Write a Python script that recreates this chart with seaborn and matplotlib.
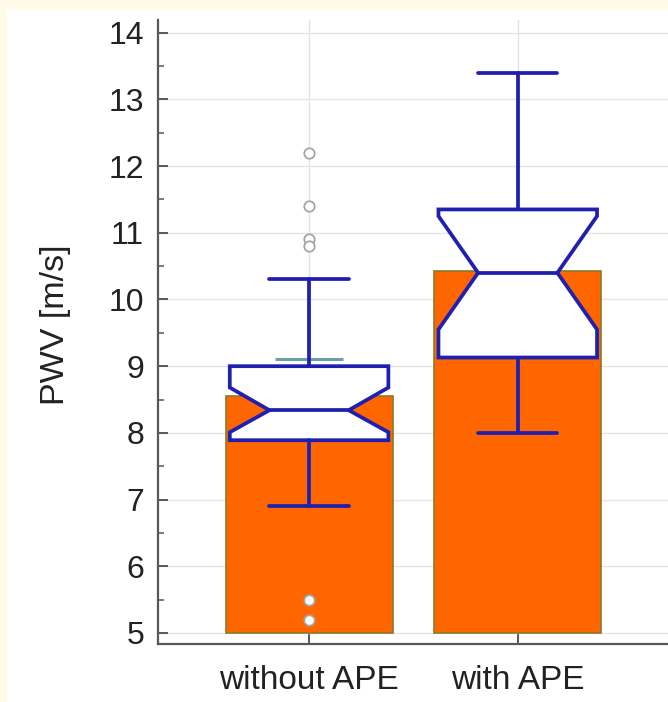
import matplotlib
matplotlib.use("Agg")
import matplotlib.pyplot as plt
from matplotlib.patches import Rectangle
from matplotlib.ticker import MultipleLocator
import numpy as np
import pandas as pd
import seaborn as sns

# ---- data ----
groups = ["without APE", "with APE"]
bar_values = [8.55, 10.42]
bar_base = 5.0
bar_err = [0.56, 0.60]

q1 = [7.89, 9.13]
median = [8.34, 10.40]
q3 = [9.00, 11.35]
ci_low = [8.01, 9.55]
ci_high = [8.68, 11.25]
whisker_low = [6.90, 8.00]
whisker_high = [10.30, 13.40]
outliers = [[12.2, 11.4, 10.9, 10.8, 5.5, 5.2], []]

y_ticks = [5, 6, 7, 8, 9, 10, 11, 12, 13, 14]

# ---- style ----
sns.set_style("white")
plt.rcParams['font.family'] = ['Liberation Sans', 'DejaVu Sans']

BLUE = "#2020b0"
ORANGE = "#ff6600"
TEXT = "#222222"
AXIS = "#585858"

fig = plt.figure(figsize=(6.68, 7.02), dpi=100, facecolor="#fffbe6")
fig.patches.append(Rectangle((7 / 668, 0), 1, 1 - 10 / 702, transform=fig.transFigure,
                             facecolor="white", edgecolor="none", zorder=-10))
ax = fig.add_axes([158 / 668, (702 - 644) / 702, (668 - 158) / 668, (644 - 20) / 702])
ax.set_facecolor("white")

df = pd.DataFrame({"group": groups,
                   "height": [v - bar_base for v in bar_values]})
sns.barplot(data=df, x="group", y="height", bottom=bar_base, color=ORANGE,
            saturation=1, errorbar=None, width=0.8, edgecolor="#8a7a2a",
            linewidth=1.2, zorder=2, ax=ax)

ax.errorbar([0, 1], bar_values, yerr=bar_err, fmt="none", ecolor="#6d9ea6",
            elinewidth=1.5, capsize=24.5, capthick=2.2, zorder=2.5)

stats = []
for i in range(len(groups)):
    stats.append(dict(med=median[i], q1=q1[i], q3=q3[i], whislo=whisker_low[i],
                      whishi=whisker_high[i], fliers=outliers[i],
                      cilo=ci_low[i], cihi=ci_high[i], label=groups[i]))

LW = 2.7
ax.bxp(stats, positions=[0, 1], widths=0.76, shownotches=True, patch_artist=True,
       manage_ticks=False, zorder=3,
       boxprops=dict(facecolor="white", edgecolor=BLUE, linewidth=LW),
       whiskerprops=dict(color=BLUE, linewidth=LW),
       capprops=dict(color=BLUE, linewidth=LW),
       medianprops=dict(color=BLUE, linewidth=LW),
       flierprops=dict(marker="o", markerfacecolor="white", markeredgecolor="#a5a5a5",
                       markersize=7.5, markeredgewidth=1.3))

ax.set_xlim(-0.724, 1.72)
ax.set_ylim(4.835, 14.19)
ax.set_yticks(y_ticks)
ax.yaxis.set_minor_locator(MultipleLocator(0.5))
ax.set_xticks([0, 1])
ax.set_xticklabels(groups)

ax.grid(True, which="major", color="#e4e4e4", linewidth=1.0)
ax.set_axisbelow(True)
for s in ["top", "right"]:
    ax.spines[s].set_visible(False)
for s in ["left", "bottom"]:
    ax.spines[s].set_color(AXIS)
    ax.spines[s].set_linewidth(1.6)

ax.tick_params(axis="y", which="major", left=True, direction="in", length=7, width=1.4,
               color=AXIS, labelsize=23, labelcolor=TEXT, pad=10)
ax.tick_params(axis="y", which="minor", left=True, direction="in", length=4, width=1.1,
               color=AXIS)
ax.tick_params(axis="x", which="major", bottom=True, direction="in", length=7, width=1.4,
               color=AXIS, labelsize=24, labelcolor=TEXT, pad=15)

ax.set_xlabel("")
ax.set_ylabel("PWV [m/s]", fontsize=24.5, color=TEXT, labelpad=27, y=0.511)

fig.savefig("out.png", dpi=100, facecolor=fig.get_facecolor())
